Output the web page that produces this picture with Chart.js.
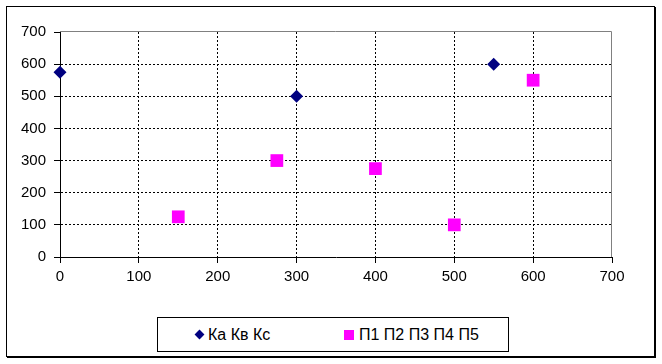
<!DOCTYPE html>
<html>
<head>
<meta charset="utf-8">
<script src="https://cdn.jsdelivr.net/npm/chart.js@4/dist/chart.umd.min.js"></script>
<style>
  html, body { margin: 0; padding: 0; background: #fff; }
  #wrap { position: relative; width: 662px; height: 364px; overflow: hidden; font-family: "Liberation Sans", Arial, sans-serif; }
  #frame { position: absolute; left: 6px; top: 6px; width: 647px; height: 349px; border: 1px solid #000; box-shadow: 1px 1px 0 #000; }
  #c { position: absolute; left: 0; top: 0; }
  #legend { position: absolute; left: 157px; top: 317px; width: 350px; height: 33px; border: 1px solid #000; background: #fff; }
  .item { position: absolute; top: 0; height: 33px; line-height: 33px; font-size: 16px; color: #000; white-space: nowrap; }
  .mk { position: absolute; display: block; }
  .txt { position: absolute; top: 0; }
</style>
</head>
<body>
<div id="wrap">
  <div id="frame"></div>
  <canvas id="c" width="662" height="364"></canvas>
  <div id="legend"></div>
</div>
<script>
// ---- data ----
const seriesNames = ["Ка Кв Кс", "П1 П2 П3 П4 П5"];
const seriesAX = [0, 300, 550];
const seriesAY = [575, 500, 600];
const seriesBX = [150, 275, 400, 500, 600];
const seriesBY = [125, 300, 275, 100, 550];
const xTicks = [0, 100, 200, 300, 400, 500, 600, 700];
const yTicks = [0, 100, 200, 300, 400, 500, 600, 700];

const colorA = "#000080";
const colorB = "#FF00FF";

const toPoints = (xs, ys) => xs.map((x, i) => ({ x: x, y: ys[i] }));

const plotBorder = {
  id: "plotBorder",
  beforeDatasetsDraw(chart) {
    const a = chart.chartArea, ctx = chart.ctx;
    ctx.save();
    ctx.strokeStyle = "#808080";
    ctx.lineWidth = 1;
    ctx.beginPath();
    const t = Math.round(a.top) - 0.5, r = Math.round(a.right) - 0.5;
    ctx.moveTo(Math.round(a.left), t);
    ctx.lineTo(r, t);
    ctx.lineTo(r, Math.round(a.bottom));
    ctx.stroke();
    ctx.restore();
  }
};

const maxX = xTicks[xTicks.length - 1], maxY = yTicks[yTicks.length - 1];

new Chart(document.getElementById("c"), {
  type: "scatter",
  data: {
    datasets: [
      { label: seriesNames[0], data: toPoints(seriesAX, seriesAY), pointStyle: "rectRot", pointRadius: 6.5, pointHoverRadius: 6.5,
        backgroundColor: colorA, borderColor: colorA, borderWidth: 0, clip: false },
      { label: seriesNames[1], data: toPoints(seriesBX, seriesBY), pointStyle: "rect", pointRadius: 9, pointHoverRadius: 9,
        backgroundColor: colorB, borderColor: colorB, borderWidth: 0, clip: false }
    ]
  },
  options: {
    responsive: false,
    animation: false,
    events: [],
    layout: { padding: { left: 0, right: 50, top: 32, bottom: 67 } },
    plugins: { legend: { display: false }, tooltip: { enabled: false } },
    scales: {
      x: {
        type: "linear", min: xTicks[0], max: maxX,
        afterBuildTicks: s => { s.ticks = xTicks.map(v => ({ value: v })); },
        afterFit: s => { s.height = 40; },
        ticks: { color: "#000", font: { family: "'Liberation Sans', Arial", size: 15 }, padding: 5, maxRotation: 0 },
        grid: {
          color: ctx => (ctx.tick && (ctx.tick.value === 0 || ctx.tick.value === maxX)) ? "rgba(0,0,0,0)" : "#000",
          tickColor: "#000", tickLength: 6, lineWidth: 1
        },
        border: { display: true, color: "#000", width: 1, dash: [2, 2] }
      },
      y: {
        type: "linear", min: yTicks[0], max: maxY,
        afterBuildTicks: s => { s.ticks = yTicks.map(v => ({ value: v })); },
        afterFit: s => { s.width = 60; },
        ticks: { color: "#000", font: { family: "'Liberation Sans', Arial", size: 15 }, padding: 8 },
        grid: {
          color: ctx => (ctx.tick && (ctx.tick.value === 0 || ctx.tick.value === maxY)) ? "rgba(0,0,0,0)" : "#000",
          tickColor: "#000", tickLength: 6, lineWidth: 1
        },
        border: { display: true, color: "#000", width: 1, dash: [2, 2] }
      }
    }
  },
  plugins: [plotBorder]
});

// ---- HTML legend ----
const legend = document.getElementById("legend");
const items = [
  { name: seriesNames[0], left: 36, mk: '<span class="mk" style="left:2px;top:13px;width:7px;height:7px;background:' + colorA + ';transform:rotate(45deg);"></span>', txtLeft: 14 },
  { name: seriesNames[1], left: 186, mk: '<span class="mk" style="left:0;top:12px;width:10px;height:10px;background:' + colorB + ';"></span>', txtLeft: 15 }
];
items.forEach(it => {
  const d = document.createElement("div");
  d.className = "item";
  d.style.left = it.left + "px";
  d.innerHTML = it.mk + '<span class="txt" style="left:' + it.txtLeft + 'px">' + it.name + '</span>';
  legend.appendChild(d);
});
</script>
</body>
</html>
